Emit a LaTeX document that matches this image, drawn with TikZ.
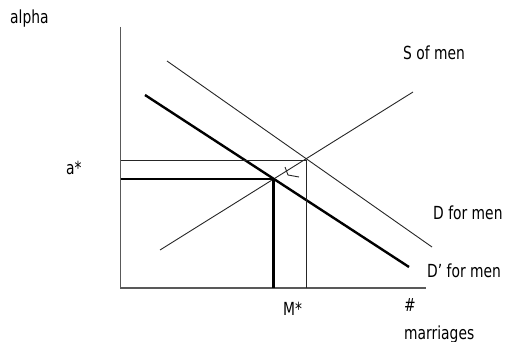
\documentclass[tikz,border=0pt]{standalone}
\usepackage{fontspec}
\setmainfont[FakeStretch=0.77]{DejaVu Sans}
\begin{document}
\begin{tikzpicture}[x=1pt,y=-1pt,
  lbl/.style={anchor=base west,inner sep=0pt,text=black,font=\fontsize{18}{22}\selectfont},
  axisline/.style={draw=black!65,line width=1.4pt},
  thinline/.style={draw=black!85,line width=0.9pt},
  thickline/.style={draw=black,line width=2.4pt}]
\useasboundingbox (0,0) rectangle (506,342);
% coordinates
\coordinate (O) at (120.5,288);
\coordinate (Ytop) at (120.5,27);
\coordinate (Xend) at (426,288);
\coordinate (S1) at (160,250);
\coordinate (S2) at (413,92);
\coordinate (D1) at (167,61);
\coordinate (D2) at (432,247);
\coordinate (Dp1) at (145,95);
\coordinate (Dp2) at (409,267);
\coordinate (E) at (306,160);
\coordinate (Ep) at (273.5,179);
\coordinate (EyA) at (120.5,160);
\coordinate (ExA) at (306,288);
\coordinate (EpyA) at (120.5,179);
\coordinate (EpxA) at (273.5,288);
\coordinate (T0) at (288,175);
\coordinate (T1) at (285,167);
\coordinate (T2) at (299,177);
% axes
\draw[axisline] (Ytop) -- (O) -- (Xend);
% curves
\draw[thinline] (S1) -- (S2);
\draw[thinline] (D1) -- (D2);
\draw[thickline] (Dp1) -- (Dp2);
% guides
\draw[thinline] (EyA) -- (E) -- (ExA);
\draw[thickline] (EpyA) -- (Ep) -- (EpxA);
% small arrow mark
\draw[thinline] (T1) -- (T0) -- (T2);
% labels
\node[lbl] (alpha) at (10,24) {alpha};
\node[lbl] (astar) at (66,175) {a*};
\node[lbl] (Smen) at (403,60) {S of men};
\node[lbl] (Dmen) at (433,219) {D for men};
\node[lbl] (Dpmen) at (427,277) {D\char"27\ for men};
\node[lbl] (Mstar) at (283,315) {M*};
\node[lbl] (hash) at (404,311) {\#};
\node[lbl] (marr) at (404,339) {marriages};
\end{tikzpicture}
\end{document}
